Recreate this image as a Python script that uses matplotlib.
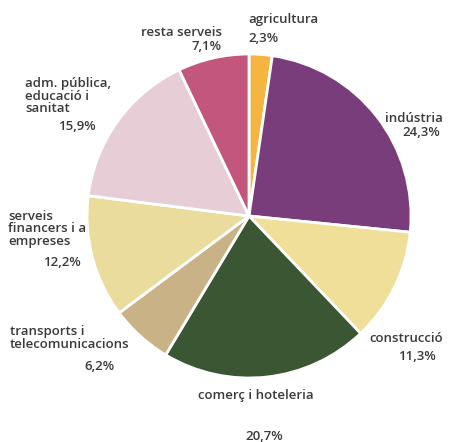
import matplotlib
matplotlib.use('Agg')
import matplotlib.pyplot as plt

# sectors, clockwise from the top
sectors = ['agricultura', 'indústria', 'construcció', 'comerç i hoteleria',
           'transports i\ntelecomunicacions', 'serveis\nfinancers i a\nempreses',
           'adm. pública,\neducació i\nsanitat', 'resta serveis']
shares = [2.3, 24.3, 11.3, 20.7, 6.2, 12.2, 15.9, 7.1]
share_labels = ['2,3%', '24,3%', '11,3%', '20,7%', '6,2%', '12,2%', '15,9%', '7,1%']
colors = ['#f4b640', '#7a3d7c', '#efdf98', '#3b5633', '#c8b286', '#eadc9c',
          '#e6cdd6', '#c2567c']

W, H = 459, 442
fig = plt.figure(figsize=(W / 100, H / 100), dpi=100)
ax = fig.add_axes([0, 0, 1, 1])

ax.pie(shares, colors=colors, startangle=90, counterclock=False,
       center=(249, H - 216), radius=162,
       wedgeprops=dict(edgecolor='white', linewidth=2))

ax.set_xlim(0, W)
ax.set_ylim(0, H)
ax.set_aspect('equal')
ax.axis('off')

font = dict(family='Open Sans', fontweight='semibold', fontsize=9.5,
            color='#3a3a3a', linespacing=1.0)

# label placement (pixel coords from top-left): name xy, name align, pct xy, pct align
spots = [
    ((248, 19), 'left', (248, 38), 'left'),
    ((443, 118), 'right', (440, 133), 'right'),
    ((443, 339), 'right', (436, 356), 'right'),
    ((256, 396), 'center', (264, 437), 'center'),
    ((10, 338), 'left', (99, 366), 'center'),
    ((8, 229), 'left', (62, 262), 'center'),
    ((25, 96), 'left', (77, 126), 'center'),
    ((222, 33), 'right', (221, 47), 'right'),
]

for name, pct, (nxy, nha, pxy, pha) in zip(sectors, share_labels, spots):
    ax.text(nxy[0], H - nxy[1], name, ha=nha, va='center', multialignment='left', **font)
    ax.text(pxy[0], H - pxy[1], pct, ha=pha, va='center', **font)

fig.savefig('out.png', dpi=100, facecolor='white')
